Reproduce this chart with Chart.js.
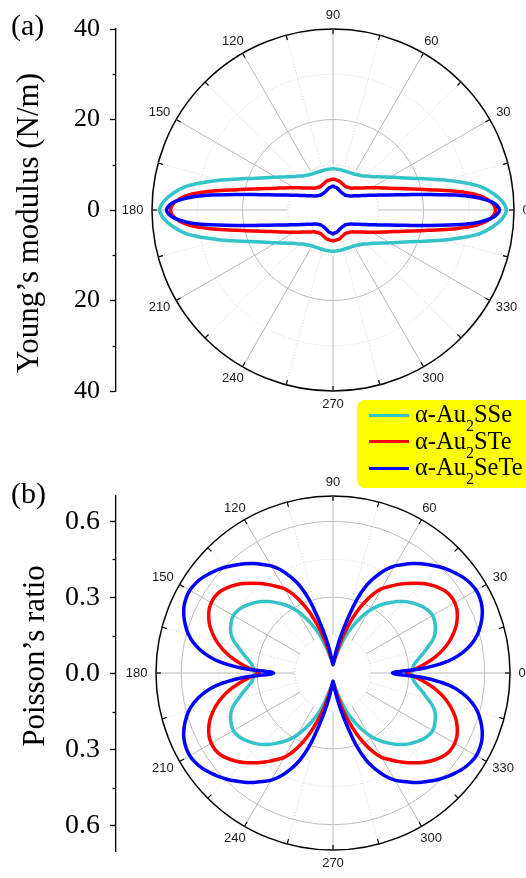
<!DOCTYPE html>
<html>
<head>
<meta charset="utf-8">
<script src="https://cdn.jsdelivr.net/npm/chart.js@4.4.1/dist/chart.umd.min.js"></script>
<style>
  html, body { margin: 0; padding: 0; background: #fff; }
  #wrap { position: relative; width: 526px; height: 878px; overflow: hidden; }
  canvas { position: absolute; left: 0; }
  #chartA { top: 0; }
  #chartB { top: 440px; }
  .legend { position: absolute; left: 357px; top: 400px; width: 200px; height: 88px;
            background: #ffff00; border-radius: 8px; z-index: 2;
            font-family: 'Liberation Serif', 'Times New Roman', serif; font-size: 24.5px; color: #000; }
  .legend .row { position: absolute; left: 0; height: 23px; line-height: 23px; white-space: nowrap; }
  .legend .swatch { position: absolute; left: 12px; top: 11.5px; width: 40px; height: 3px; }
  .legend .txt { position: absolute; left: 58px; top: 0; }
  .legend sub { font-size: 16px; vertical-align: -9px; line-height: 0; }
</style>
</head>
<body>
<div id="wrap">
  <canvas id="chartA" width="550" height="440"></canvas>
  <canvas id="chartB" width="550" height="438"></canvas>
  <div class="legend">
    <div class="row" style="top:2px"><span class="swatch" style="background:#33c3c8"></span><span class="txt">α-Au<sub>2</sub>SSe</span></div>
    <div class="row" style="top:28.7px"><span class="swatch" style="background:#ff0000"></span><span class="txt">α-Au<sub>2</sub>STe</span></div>
    <div class="row" style="top:55.4px"><span class="swatch" style="background:#0000ff"></span><span class="txt">α-Au<sub>2</sub>SeTe</span></div>
  </div>
</div>
<script>
// one quadrant (0..90 deg); the curves are mirror symmetric about both axes
const angles = [0, 3, 6, 9, 12, 15, 18, 21, 24, 27, 30, 33, 36, 39, 42, 45,
                48, 51, 54, 57, 60, 63, 66, 69, 72, 75, 78, 81, 84, 87, 90];
const angleTicks = [0, 30, 60, 90, 120, 150, 180, 210, 240, 270, 300, 330];

// Young's modulus (N/m)
const youngSSe  = [38.3, 37.4, 35.5, 33.0, 29.3, 25.6, 22.2, 19.5, 17.4, 15.8, 14.5, 13.4, 12.5, 11.7, 11.1, 10.6,
                   10.1, 9.8, 9.55, 9.35, 9.2, 9.1, 9.05, 9.0, 9.0, 9.0, 9.05, 9.05, 9.05, 9.1, 9.1];
const youngSTe  = [35.9, 34.9, 32.0, 26.8, 21.6, 18.0, 15.4, 13.4, 12.0, 10.8, 9.8, 9.0, 8.3, 7.7, 7.3, 6.9,
                   6.5, 6.25, 6.1, 6.0, 5.9, 5.9, 6.0, 6.1, 6.2, 6.4, 6.55, 6.6, 6.7, 6.75, 6.85];
const youngSeTe = [36.8, 35.0, 29.8, 21.8, 16.3, 12.9, 10.7, 9.1, 7.9, 7.0, 6.3, 5.75, 5.3, 4.9, 4.7, 4.5,
                   4.4, 4.25, 4.25, 4.25, 4.25, 4.3, 4.35, 4.45, 4.55, 4.7, 4.85, 5.0, 5.05, 5.15, 5.3];

// Poisson's ratio
const poissonSSe  = [0.31, 0.315, 0.323, 0.34, 0.363, 0.386, 0.413, 0.432, 0.443, 0.451, 0.455, 0.451, 0.443, 0.43, 0.416, 0.4,
                     0.38, 0.358, 0.336, 0.312, 0.283, 0.25, 0.215, 0.18, 0.145, 0.108, 0.08, 0.06, 0.051, 0.044, 0.039];
const poissonSTe  = [0.292, 0.33, 0.37, 0.41, 0.445, 0.475, 0.5, 0.522, 0.538, 0.55, 0.556, 0.556, 0.55, 0.537, 0.52, 0.5,
                     0.477, 0.455, 0.432, 0.408, 0.385, 0.35, 0.305, 0.255, 0.2, 0.15, 0.105, 0.072, 0.053, 0.043, 0.037];
const poissonSeTe = [0.235, 0.36, 0.46, 0.52, 0.562, 0.592, 0.614, 0.632, 0.645, 0.652, 0.654, 0.649, 0.64, 0.626, 0.611, 0.594,
                     0.575, 0.556, 0.535, 0.512, 0.489, 0.458, 0.418, 0.372, 0.305, 0.218, 0.15, 0.098, 0.062, 0.042, 0.032];

// axis ticks
const youngRings = [0, 10, 20, 30, 40];
const youngMajor = [-40, -20, 0, 20, 40];
const youngMinor = [-30, -10, 10, 30];
const poissonRings = [0, 0.15, 0.3, 0.45, 0.6, 0.7];
const poissonMajor = [-0.6, -0.3, 0, 0.3, 0.6];
const poissonMinor = [-0.45, -0.15, 0.15, 0.45];

const step = angles[1] - angles[0];
// radar goes clockwise from the start angle, so walk the angles backwards
const labelAngles = [];
for (let a = 0; a < 360; a += step) labelAngles.push((360 - a) % 360);

function fullTurn(quarter) {
    return labelAngles.map(a => {
        let t = a % 180;
        if (t > 90) t = 180 - t;
        return quarter[angles.indexOf(t)];
    });
}

const polarDecor = {
    id: 'polarDecor',
    beforeDatasetsDraw(chart, args, o) {
        const s = chart.scales.r, ctx = chart.ctx;
        const rIn = s.getDistanceFromCenterForValue(o.inner);
        ctx.save();
        ctx.fillStyle = '#fff';
        ctx.beginPath();
        ctx.arc(s.xCenter, s.yCenter, rIn + 0.5, 0, Math.PI * 2);
        ctx.fill();
        ctx.strokeStyle = '#cfcfcf';
        ctx.lineWidth = 1;
        ctx.setLineDash([1, 2]);
        ctx.beginPath();
        ctx.arc(s.xCenter, s.yCenter, rIn, 0, Math.PI * 2);
        ctx.stroke();
        ctx.restore();
    },
    afterDraw(chart, args, o) {
        const s = chart.scales.r, y = chart.scales.y, ctx = chart.ctx;
        const R = s.drawingArea;
        ctx.save();
        // small ticks on the outer circle
        ctx.strokeStyle = '#000';
        ctx.lineWidth = 1.2;
        for (let i = 0; i < labelAngles.length; i += 15 / step) {
            const p1 = s.getPointPosition(i, R - 5), p2 = s.getPointPosition(i, R);
            ctx.beginPath();
            ctx.moveTo(p1.x, p1.y);
            ctx.lineTo(p2.x, p2.y);
            ctx.stroke();
        }
        // angle labels
        ctx.fillStyle = '#1a1a1a';
        ctx.font = '13px "Liberation Sans", Arial, sans-serif';
        ctx.textAlign = 'center';
        ctx.textBaseline = 'middle';
        angleTicks.forEach(a => {
            const i = ((360 - a) % 360) / step;
            const w = ctx.measureText(String(a)).width;
            const rad = a * Math.PI / 180;
            const p = s.getPointPosition(i, R + 8.5);
            ctx.fillText(String(a), p.x + w / 2 * Math.cos(rad), p.y - 5 * Math.sin(rad));
        });
        // minor ticks on the left axis
        ctx.lineWidth = 1.3;
        o.minor.forEach(v => {
            const py = Math.round(y.getPixelForValue(v)) + 0.5;
            ctx.beginPath();
            ctx.moveTo(y.right - 3.5, py);
            ctx.lineTo(y.right, py);
            ctx.stroke();
        });
        // panel letter and axis title
        ctx.fillStyle = '#000';
        ctx.textAlign = 'left';
        ctx.textBaseline = 'alphabetic';
        ctx.font = '30px "Liberation Serif", "Times New Roman", serif';
        ctx.fillText(o.label, 11, o.labelY);
        ctx.translate(o.titleX, o.titleY);
        ctx.rotate(-Math.PI / 2);
        ctx.textAlign = 'center';
        ctx.font = '31px "Liberation Serif", "Times New Roman", serif';
        ctx.fillText(o.title, 0, 0);
        ctx.restore();
    }
};

function makePanel(id, p) {
    const rings = p.rings;
    return new Chart(document.getElementById(id), {
        type: 'radar',
        data: {
            labels: labelAngles.map(String),
            datasets: [
                { label: 'α-Au₂SeTe', data: fullTurn(p.series[2]), borderColor: '#0000ff' },
                { label: 'α-Au₂STe', data: fullTurn(p.series[1]), borderColor: '#ff0000' },
                { label: 'α-Au₂SSe', data: fullTurn(p.series[0]), borderColor: '#33c3c8' }
            ]
        },
        options: {
            responsive: false,
            animation: false,
            events: [],
            layout: { padding: { top: p.top, bottom: p.bottom, left: 0, right: 0 } },
            elements: {
                line: { borderWidth: 3.5, tension: 0.35, fill: false },
                point: { radius: 0, hitRadius: 0 }
            },
            plugins: {
                legend: { display: false },
                tooltip: { enabled: false },
                polarDecor: {
                    inner: rings[1], minor: p.minor, label: p.label, labelY: p.labelY,
                    title: p.title, titleX: p.titleX, titleY: p.titleY
                }
            },
            scales: {
                r: {
                    min: 0,
                    max: rings[rings.length - 1],
                    bounds: 'data',
                    startAngle: 90,
                    afterBuildTicks: s => { s.ticks = rings.map(v => ({ value: v })); },
                    ticks: { display: false },
                    pointLabels: { display: false },
                    grid: {
                        circular: true,
                        color: c => c.index === rings.length - 1 ? '#000' : (c.index % 2 === 0 ? '#bdbdbd' : '#d2d2d2'),
                        lineWidth: c => c.index === rings.length - 1 ? 1.5 : 1
                    },
                    border: { dash: c => (c.index % 2 === 1 && c.index !== rings.length - 1) ? [1, 2] : [] },
                    angleLines: {
                        color: c => c.index % (30 / step) === 0 ? '#b9b9b9' : '#d5d5d5',
                        lineWidth: c => c.index % (15 / step) === 0 ? 1 : 0,
                        borderDash: c => c.index % (30 / step) === 0 ? [] : [1, 2]
                    }
                },
                y: {
                    type: 'linear',
                    position: 'left',
                    min: -p.rMax,
                    max: p.rMax,
                    bounds: 'data',
                    afterBuildTicks: s => { s.ticks = p.major.map(v => ({ value: v })); },
                    afterFit: s => { s.width = 116; },
                    ticks: {
                        autoSkip: false,
                        padding: 10,
                        color: '#000',
                        font: { family: '"Liberation Serif", "Times New Roman", serif', size: p.tickSize },
                        callback: p.fmt
                    },
                    grid: { display: true, drawOnChartArea: false, tickLength: 6, tickWidth: 1.3, tickColor: '#000' },
                    border: { display: true, color: '#000', width: 1.3 }
                }
            }
        },
        plugins: [polarDecor]
    });
}

Chart.defaults.font.family = '"Liberation Sans", Arial, sans-serif';

makePanel('chartA', {
    series: [youngSSe, youngSTe, youngSeTe],
    rings: youngRings, rMax: 40, major: youngMajor, minor: youngMinor,
    fmt: v => String(Math.abs(v)), tickSize: 26,
    top: 29, bottom: 49,
    label: '(a)', labelY: 35,
    title: 'Young’s modulus (N/m)', titleX: 38, titleY: 223
});

makePanel('chartB', {
    series: [poissonSSe, poissonSTe, poissonSeTe],
    rings: poissonRings, rMax: 0.7, major: poissonMajor, minor: poissonMinor,
    fmt: v => Math.abs(v).toFixed(1), tickSize: 28,
    top: 56, bottom: 20,
    label: '(b)', labelY: 63,
    title: 'Poisson’s ratio', titleX: 44, titleY: 216
});
</script>
</body>
</html>
